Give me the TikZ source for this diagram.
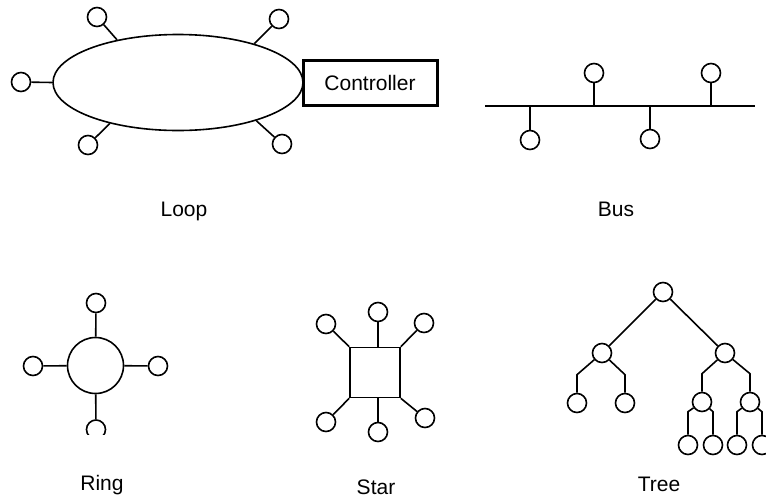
\documentclass[tikz,border=0pt]{standalone}
\usepackage{fontspec}
\setmainfont{Liberation Sans}
\usetikzlibrary{shapes.geometric}

\begin{document}
\begin{tikzpicture}[
    x=0.5pt, y=-0.5pt,
    line width=0.8pt,
    stn/.style={circle, draw, minimum size=9.5pt, inner sep=0pt},
    lbl/.style={font=\fontsize{10.5}{12}\selectfont, anchor=base},
]
\useasboundingbox (0,0) rectangle (766,499);

% ---------- Loop: ellipse with controller on its right end ----------
\node[ellipse, draw, inner sep=0pt, minimum width=125pt, minimum height=48pt] (loop) at (178,82.5) {};
\node[draw, line width=1.5pt, fill=white, minimum width=67pt, minimum height=22.5pt,
      font=\fontsize{10.5}{12}\selectfont] (ctrl) at (370,82.5) {Controller};
\node[stn] (l1) at (21,82)   {};
\node[stn] (l2) at (97,17)   {};
\node[stn] (l3) at (279,19)  {};
\node[stn] (l4) at (88,145)  {};
\node[stn] (l5) at (282,144) {};
\draw (l1) -- (loop.180);
\draw (l2) -- (loop.145);
\draw (l3) -- (loop.27);
\draw (l4) -- (loop.211);
\draw (l5) -- (loop.334);
\node[lbl] (looplbl) at (184,216) {Loop};

% ---------- Bus: one line, stations above and below ----------
\coordinate (busL) at (485,106);
\coordinate (busR) at (755,106);
\draw (busL) -- (busR);
\node[stn] (b1) at (530,140) {};
\node[stn] (b2) at (594,73)  {};
\node[stn] (b3) at (650,139) {};
\node[stn] (b4) at (711,73)  {};
\foreach \s in {b1,b2,b3,b4}
  \draw (\s) -- (\s |- busL);
\node[lbl] (buslbl) at (616,216) {Bus};

% ---------- Ring ----------
\node[circle, draw, inner sep=0pt, minimum size=28pt] (ring) at (95.5,365.5) {};
\node[stn] (r1) at (96,303)  {};
\node[stn] (r2) at (33,366)  {};
\node[stn] (r3) at (158,366) {};
\begin{scope}
  \clip (80,410) rectangle (112,434.5);
  \node[stn] (r4) at (96,429.5) {};
\end{scope}
\foreach \s in {r1,r2,r3,r4}
  \draw (ring) -- (\s);
\node[lbl] (ringlbl) at (102,490) {Ring};

% ---------- Star: square hub ----------
\node[rectangle, draw, inner sep=0pt, minimum size=25pt] (hub) at (375,372.5) {};
\node[stn] (s1) at (326,324) {};
\node[stn] (s2) at (378,312) {};
\node[stn] (s3) at (424,323) {};
\node[stn] (s4) at (326,422) {};
\node[stn] (s5) at (378,432) {};
\node[stn] (s6) at (425,418) {};
\draw (s1) -- (hub.north west);
\draw (s2) -- (s2 |- hub.north);
\draw (s3) -- (hub.north east);
\draw (s4) -- (hub.south west);
\draw (s5) -- (s5 |- hub.south);
\draw (s6) -- (hub.south east);
\node[lbl] (starlbl) at (376,494) {Star};

% ---------- Tree ----------
\node[stn] (t)    at (663,292) {};
\node[stn] (t1)   at (602,353) {};
\node[stn] (t2)   at (725,353) {};
\node[stn] (t11)  at (577,403) {};
\node[stn] (t12)  at (625,403) {};
\node[stn] (t21)  at (702,402) {};
\node[stn] (t22)  at (750,402) {};
\node[stn] (t211) at (688,445) {};
\node[stn] (t212) at (713,445) {};
\node[stn] (t221) at (737,445) {};
\node[stn] (t222) at (762,445) {};
\draw (t) -- (t1);
\draw (t) -- (t2);
\foreach \p/\c in {t1/t11, t1/t12, t2/t21, t2/t22}
  \draw (\p) -- ([yshift=9pt]\c.north) -- (\c);
\foreach \p/\c in {t21/t211, t21/t212, t22/t221, t22/t222}
  \draw (\p) -- ([yshift=11.5pt]\c.north) -- (\c);
\node[lbl] (treelbl) at (659,491) {Tree};

\end{tikzpicture}
\end{document}
